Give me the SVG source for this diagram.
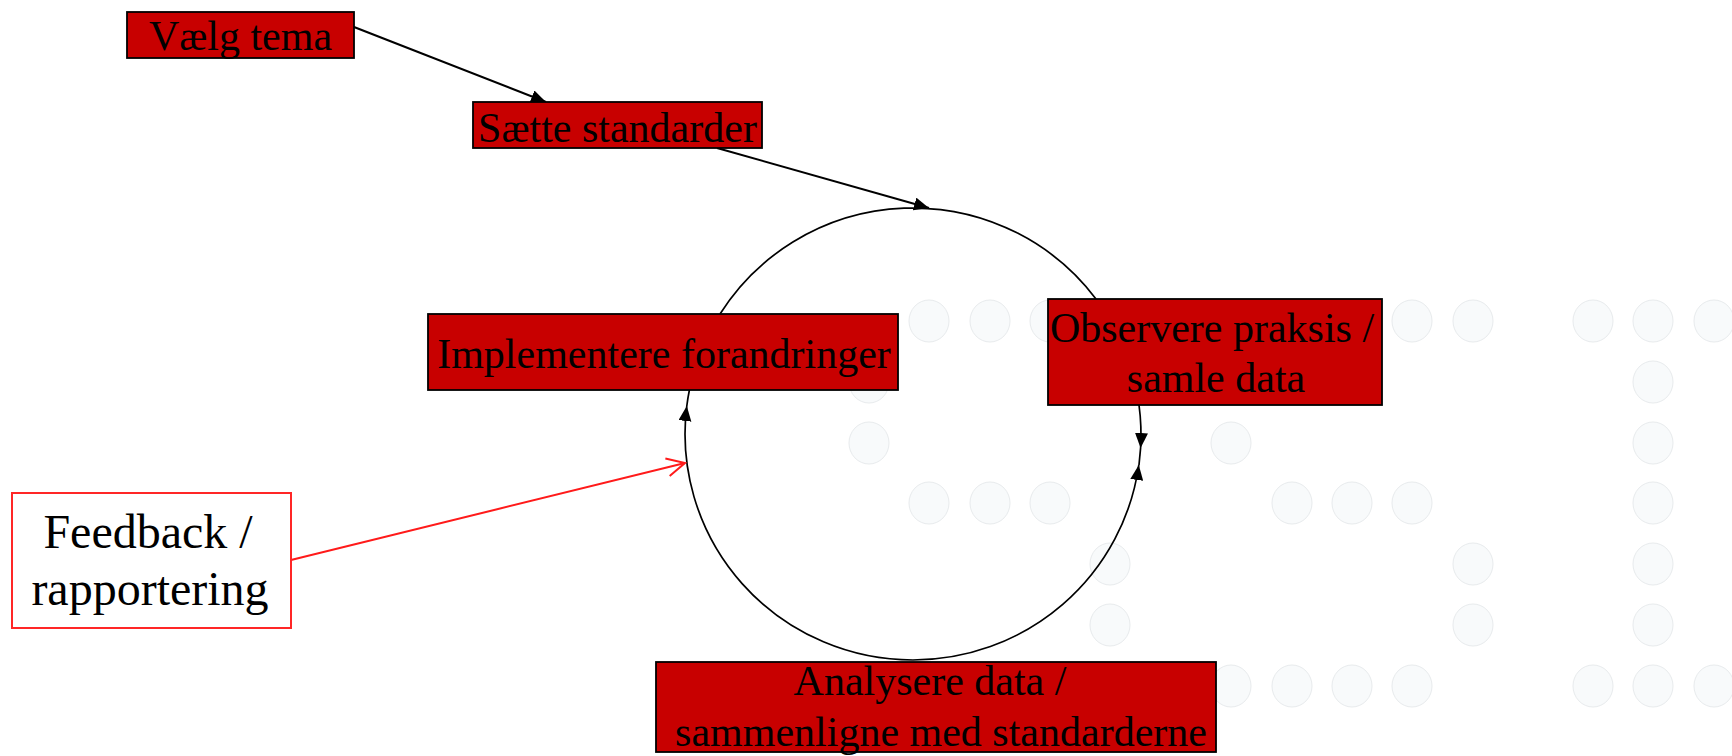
<svg xmlns="http://www.w3.org/2000/svg" width="1732" height="756" viewBox="0 0 1732 756">
<style>
.dot{fill:#f8fafb;stroke:#e8ebed;stroke-width:1}
.box{fill:#c80000;stroke:#000;stroke-width:1.8}
.fb{fill:#fff;stroke:#ff2626;stroke-width:2}
.t{font-family:"Liberation Serif","Times New Roman",serif;font-size:42px;fill:#000;text-anchor:middle}
.t48{font-size:48px}
.ln{fill:none;stroke:#000;stroke-width:2}
.arc{fill:none;stroke:#000;stroke-width:1.7}
.red{fill:none;stroke:#ff1a1a;stroke-width:2}
</style>
<defs>
<marker id="ah" markerUnits="userSpaceOnUse" markerWidth="16" markerHeight="14" refX="15" refY="6.5" orient="auto">
<path d="M0,0 L15,6.5 L0,13 Z" fill="#000"/>
</marker>
<marker id="ahr" markerUnits="userSpaceOnUse" markerWidth="22" markerHeight="22" refX="19" refY="10" orient="auto">
<path d="M1,1 L19,10 L1,19" fill="none" stroke="#ff1a1a" stroke-width="2"/>
</marker>
</defs>
<rect width="1732" height="756" fill="#fff"/>
<g id="dots">
<ellipse class="dot" cx="929" cy="321" rx="20" ry="21"/>
<ellipse class="dot" cx="990" cy="321" rx="20" ry="21"/>
<ellipse class="dot" cx="1050" cy="321" rx="20" ry="21"/>
<ellipse class="dot" cx="1412" cy="321" rx="20" ry="21"/>
<ellipse class="dot" cx="1473" cy="321" rx="20" ry="21"/>
<ellipse class="dot" cx="1593" cy="321" rx="20" ry="21"/>
<ellipse class="dot" cx="1653" cy="321" rx="20" ry="21"/>
<ellipse class="dot" cx="1714" cy="321" rx="20" ry="21"/>
<ellipse class="dot" cx="869" cy="382" rx="20" ry="21"/>
<ellipse class="dot" cx="1653" cy="382" rx="20" ry="21"/>
<ellipse class="dot" cx="869" cy="443" rx="20" ry="21"/>
<ellipse class="dot" cx="1231" cy="443" rx="20" ry="21"/>
<ellipse class="dot" cx="1653" cy="443" rx="20" ry="21"/>
<ellipse class="dot" cx="929" cy="503" rx="20" ry="21"/>
<ellipse class="dot" cx="990" cy="503" rx="20" ry="21"/>
<ellipse class="dot" cx="1050" cy="503" rx="20" ry="21"/>
<ellipse class="dot" cx="1292" cy="503" rx="20" ry="21"/>
<ellipse class="dot" cx="1352" cy="503" rx="20" ry="21"/>
<ellipse class="dot" cx="1412" cy="503" rx="20" ry="21"/>
<ellipse class="dot" cx="1653" cy="503" rx="20" ry="21"/>
<ellipse class="dot" cx="1110" cy="564" rx="20" ry="21"/>
<ellipse class="dot" cx="1473" cy="564" rx="20" ry="21"/>
<ellipse class="dot" cx="1653" cy="564" rx="20" ry="21"/>
<ellipse class="dot" cx="1110" cy="625" rx="20" ry="21"/>
<ellipse class="dot" cx="1473" cy="625" rx="20" ry="21"/>
<ellipse class="dot" cx="1653" cy="625" rx="20" ry="21"/>
<ellipse class="dot" cx="1231" cy="686" rx="20" ry="21"/>
<ellipse class="dot" cx="1292" cy="686" rx="20" ry="21"/>
<ellipse class="dot" cx="1352" cy="686" rx="20" ry="21"/>
<ellipse class="dot" cx="1412" cy="686" rx="20" ry="21"/>
<ellipse class="dot" cx="1593" cy="686" rx="20" ry="21"/>
<ellipse class="dot" cx="1653" cy="686" rx="20" ry="21"/>
<ellipse class="dot" cx="1714" cy="686" rx="20" ry="21"/>
</g>
<g id="connectors">
<path class="ln" d="M354,27 L546,102" marker-end="url(#ah)"/>
<path class="ln" d="M717,148 L929,208" marker-end="url(#ah)"/>
<path class="arc" d="M720,314 A228,226 0 0 1 1096,299"/>
<path class="arc" d="M1139,405 A228,226 0 0 1 1140.6,448" marker-end="url(#ah)"/>
<path class="arc" d="M1140.6,448 L1139,465"/>
<path class="arc" d="M913,660 A228,226 0 0 0 1138.8,465" marker-end="url(#ah)"/>
<path class="arc" d="M913,660 A228,226 0 0 1 686.8,406" marker-end="url(#ah)"/>
<path class="arc" d="M686.8,406 A228,226 0 0 1 689.4,390"/>
<path class="red" d="M291,560 L685,463" marker-end="url(#ahr)"/>
</g>
<g id="node-vaelg">
<rect class="box" x="127" y="12" width="227" height="46"/>
<text class="t" x="240.5" y="50">Vælg tema</text>
</g>
<g id="node-saette">
<rect class="box" x="473" y="102" width="289" height="46"/>
<text class="t" x="617.5" y="142">Sætte standarder</text>
</g>
<g id="node-implementere">
<rect class="box" x="428" y="314" width="470" height="76"/>
<text class="t" x="664" y="368">Implementere forandringer</text>
</g>
<g id="node-observere">
<rect class="box" x="1048" y="299" width="334" height="106"/>
<text class="t" x="1212" y="342">Observere praksis /</text>
<text class="t" x="1216" y="392">samle data</text>
</g>
<g id="node-analysere">
<rect class="box" x="656" y="662" width="560" height="90"/>
<text class="t" x="930" y="695">Analysere data /</text>
<text class="t" x="941" y="746">sammenligne med standarderne</text>
</g>
<g id="node-feedback">
<rect class="fb" x="12" y="493" width="279" height="135"/>
<text class="t t48" x="148" y="548">Feedback /</text>
<text class="t t48" x="150" y="605">rapportering</text>
</g>
</svg>
